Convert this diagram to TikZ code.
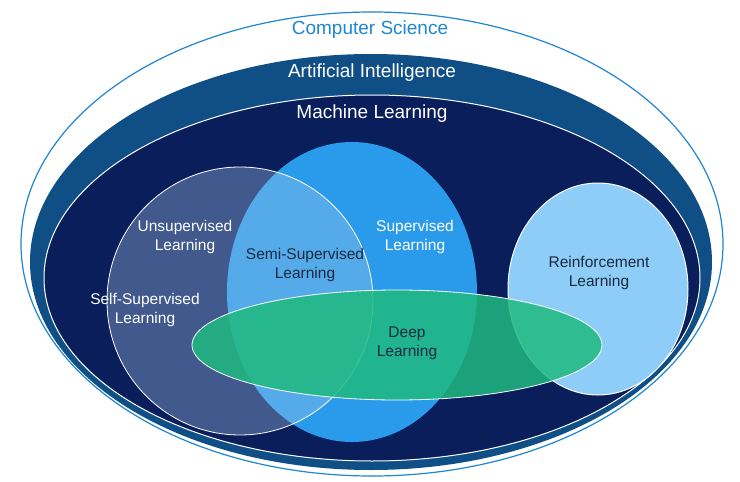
\documentclass[tikz,border=0pt]{standalone}
\usepackage{fontspec}
\setmainfont{Liberation Sans}
\begin{document}
\begin{tikzpicture}[x=1pt,y=-1pt,
  lab/.style={align=center,font=\fontsize{15.5}{19}\selectfont},
  big/.style={font=\fontsize{19}{21}\selectfont}]
\definecolor{csb}{HTML}{1F86D0}
\definecolor{aib}{HTML}{0F4F85}
\definecolor{mlb}{HTML}{0A1E5C}
\definecolor{supb}{HTML}{2A9BEA}
\definecolor{unsb}{HTML}{A8C8E8}
\definecolor{reb}{HTML}{8DCDF7}
\definecolor{dlg}{HTML}{1FBA80}
\definecolor{dk}{HTML}{1A2A40}
\useasboundingbox[fill=white] (0,0) rectangle (740,482);
\draw[csb,line width=1.2,fill=white] (372,244) ellipse [x radius=351,y radius=232];
\fill[aib] (371,262) ellipse [x radius=341,y radius=208];
\draw[white,line width=1,fill=mlb] (372,278) ellipse [x radius=328,y radius=183];
\fill[supb] (352,292) ellipse [x radius=125,y radius=150];
\draw[white,line width=0.8,fill=unsb,fill opacity=0.35] (240,301) ellipse [x radius=133,y radius=134];
\draw[white,line width=1,fill=reb] (598,289) ellipse [x radius=90,y radius=106];
\draw[white,line width=0.8,fill=dlg,fill opacity=0.85] (397,345) ellipse [x radius=205,y radius=55];
\node[big,csb] (cs) at (370,30) {Computer Science};
\node[big,white] (ai) at (372,73) {Artificial Intelligence};
\node[big,white] (ml) at (372,114) {Machine Learning};
\node[lab,white] (ul) at (185,237) {Unsupervised\\Learning};
\node[lab,white] (ssl) at (145,310) {Self-Supervised\\Learning};
\node[lab,dk] (sem) at (305,265) {Semi-Supervised\\Learning};
\node[lab,white] (sl) at (415,237) {Supervised\\Learning};
\node[lab,dk] (rl) at (599,273) {Reinforcement\\Learning};
\node[lab,dk] (dl) at (407,343) {Deep\\Learning};
\end{tikzpicture}
\end{document}
